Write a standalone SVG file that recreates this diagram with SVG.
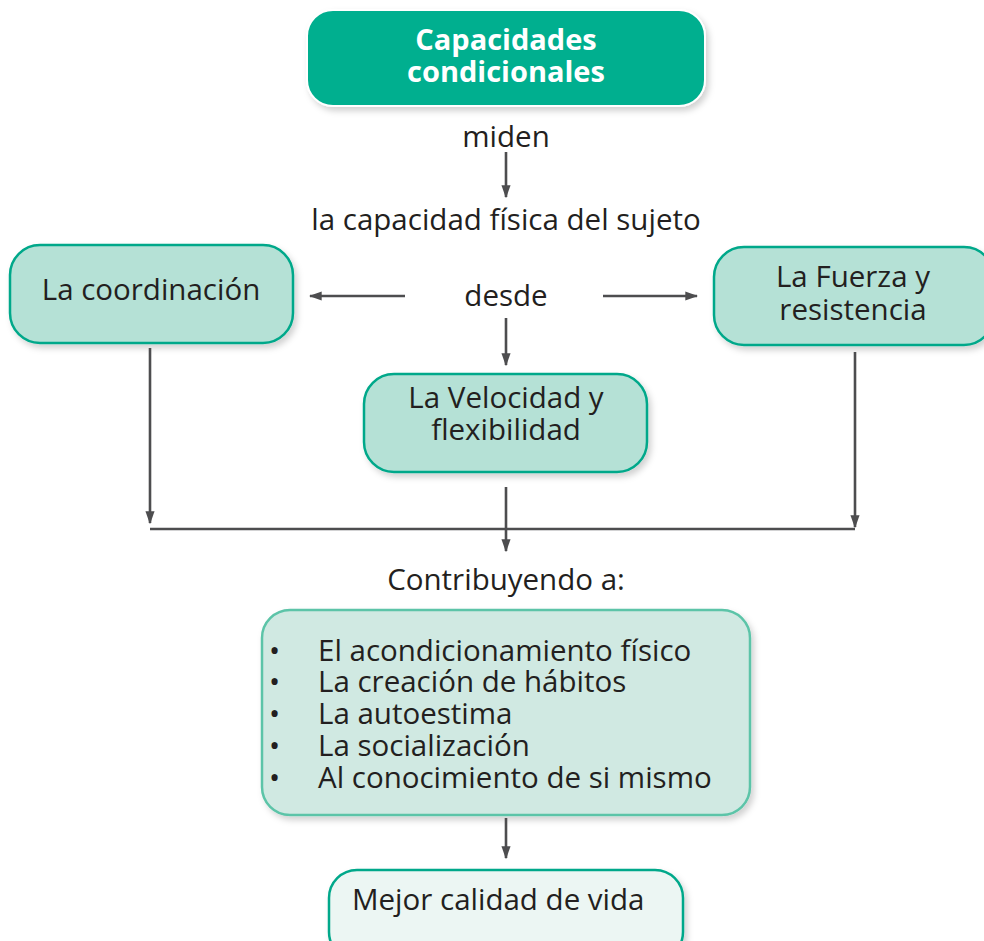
<svg xmlns="http://www.w3.org/2000/svg" width="984" height="941" viewBox="0 0 984 941">
<defs>
<filter id="sh" x="-10%" y="-10%" width="125%" height="135%">
<feDropShadow dx="3" dy="4" stdDeviation="3" flood-color="#000" flood-opacity="0.18"/>
</filter>
<marker id="ah" viewBox="0 0 10 10" refX="9" refY="5" markerWidth="5" markerHeight="5" markerUnits="strokeWidth" orient="auto">
<path d="M0,1.5 L10,5 L0,8.5 Z" fill="#4d4d4f"/>
</marker>
<style>
.t{font-family:"Open Sans","Noto Sans",sans-serif;font-size:29.5px;fill:#231f20}
.c{text-anchor:middle}
.box{fill:#b5e1d6;stroke:#00a88a;stroke-width:2.5}
.ln{stroke:#4d4d4f;stroke-width:2.6;fill:none}
</style>
</defs>
<rect width="984" height="941" fill="#ffffff"/>

<g id="capacidades">
<rect x="307" y="10" width="398" height="96" rx="26" fill="#00af8f" stroke="#ffffff" stroke-width="2" filter="url(#sh)"/>
<text class="t c" x="506" y="50" style="fill:#fff;font-weight:bold;font-size:29px">Capacidades</text>
<text class="t c" x="506" y="82" style="fill:#fff;font-weight:bold;font-size:29px">condicionales</text>
</g>

<g id="miden"><text class="t c" x="506" y="147">miden</text></g>
<g id="capacidad-fisica"><text class="t c" x="506" y="230">la capacidad física del sujeto</text></g>
<g id="desde"><text class="t c" x="506" y="306">desde</text></g>

<g id="coordinacion">
<rect class="box" x="10" y="245" width="283" height="98" rx="30" filter="url(#sh)"/>
<text class="t c" x="151" y="300">La coordinación</text>
</g>

<g id="fuerza">
<rect class="box" x="714" y="247" width="280" height="98" rx="30" filter="url(#sh)"/>
<text class="t c" x="853" y="287">La Fuerza y</text>
<text class="t c" x="853" y="320">resistencia</text>
</g>

<g id="velocidad">
<rect class="box" x="364" y="374" width="283" height="98" rx="30" filter="url(#sh)"/>
<text class="t c" x="506" y="408">La Velocidad y</text>
<text class="t c" x="506" y="440">flexibilidad</text>
</g>

<g id="contribuyendo"><text class="t c" x="506" y="590">Contribuyendo a:</text></g>

<g id="lista">
<rect x="262" y="610" width="488" height="205" rx="28" fill="#d0e9e2" stroke="#5cc4a8" stroke-width="2.5" filter="url(#sh)"/>
<g class="t">
<text x="269" y="661">•</text><text x="318" y="661">El acondicionamiento físico</text>
<text x="269" y="692">•</text><text x="318" y="692">La creación de hábitos</text>
<text x="269" y="724">•</text><text x="318" y="724">La autoestima</text>
<text x="269" y="756">•</text><text x="318" y="756">La socialización</text>
<text x="269" y="788">•</text><text x="318" y="788">Al conocimiento de si mismo</text>
</g>
</g>

<g id="mejor">
<rect x="329" y="870" width="354" height="90" rx="28" fill="#ecf6f3" stroke="#00a88a" stroke-width="2.5" filter="url(#sh)"/>
<text class="t" x="352" y="910">Mejor calidad de vida</text>
</g>

<g id="connectors">
<line class="ln" x1="506" y1="152" x2="506" y2="197" marker-end="url(#ah)"/>
<line class="ln" x1="405" y1="296" x2="310" y2="296" marker-end="url(#ah)"/>
<line class="ln" x1="603" y1="296" x2="697" y2="296" marker-end="url(#ah)"/>
<line class="ln" x1="506" y1="318" x2="506" y2="365" marker-end="url(#ah)"/>
<line class="ln" x1="150" y1="348" x2="150" y2="523" marker-end="url(#ah)"/>
<line class="ln" x1="855" y1="352" x2="855" y2="527" marker-end="url(#ah)"/>
<line class="ln" x1="150" y1="529" x2="855" y2="529"/>
<line class="ln" x1="506" y1="487" x2="506" y2="551" marker-end="url(#ah)"/>
<line class="ln" x1="506" y1="818" x2="506" y2="858" marker-end="url(#ah)"/>
</g>
</svg>
